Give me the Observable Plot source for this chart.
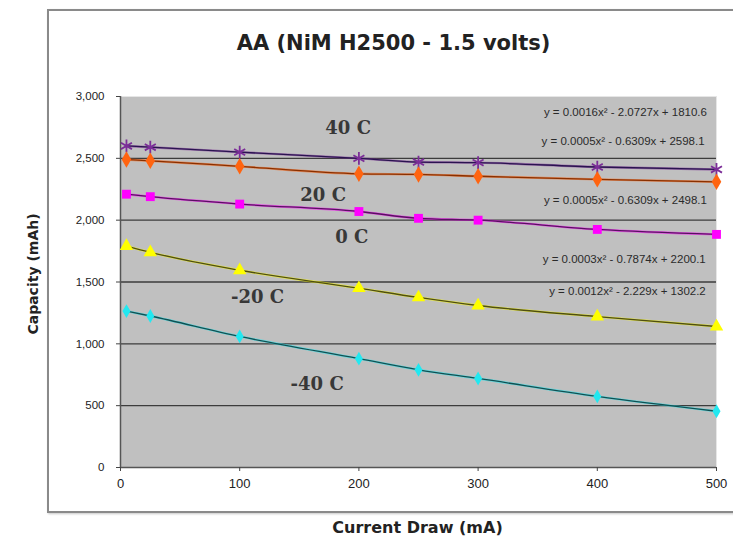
<!DOCTYPE html>
<html><head><meta charset="utf-8">
<script src="https://cdn.jsdelivr.net/npm/d3@7"></script>
<script src="https://cdn.jsdelivr.net/npm/@observablehq/plot@0.6"></script>
<style>
body{margin:0;background:#fff;}
#wrap{position:relative;width:733px;height:539px;overflow:hidden;}
#box{position:absolute;left:47px;top:9px;width:720px;height:500px;border:2px solid #8a8a8a;box-shadow:1px 1px 2px #c8c8c8;}
#chart{position:absolute;left:0;top:0;}
</style></head><body>
<div id="wrap"><div id="box"></div><div id="chart"></div></div>
<script>
// ---- data ----
const currents = [5, 25, 100, 200, 250, 300, 400, 500];
const temps = ["40 C", "20 C", "0 C", "-20 C", "-40 C"];
const cap40 = [2600, 2590, 2550, 2500, 2470, 2465, 2430, 2410];
const cap20 = [2490, 2480, 2435, 2375, 2370, 2355, 2330, 2310];
const cap0 = [2210, 2190, 2130, 2070, 2015, 2000, 1925, 1885];
const capMinus20 = [1790, 1740, 1595, 1450, 1375, 1310, 1220, 1140];
const capMinus40 = [1265, 1225, 1060, 880, 790, 720, 575, 455];
const xTicks = [0, 100, 200, 300, 400, 500];
const yTicks = [0, 500, 1000, 1500, 2000, 2500, 3000];
const equations = [
  "y = 0.0016x² - 2.0727x + 1810.6",
  "y = 0.0005x² - 0.6309x + 2598.1",
  "y = 0.0005x² - 0.6309x + 2498.1",
  "y = 0.0003x² - 0.7874x + 2200.1",
  "y = 0.0012x² - 2.229x + 1302.2"
];
const equationAtX = [492, 490, 492, 491, 491];
const equationAtY = [2874, 2634, 2163, 1686, 1428];
const tempLabelX = [191, 170, 194, 115, 165];
const tempLabelY = [2747, 2205, 1865, 1380, 677];
const title = "AA (NiM H2500 - 1.5 volts)";
const xTitle = "Current Draw (mA)";
const yTitle = "Capacity (mAh)";

// ---- styles ----
const seriesValues = [cap40, cap20, cap0, capMinus20, capMinus40];
const seriesStyle = [
  {symbol: "asterisk", marker: "#7b2d98", line: "#2a1450", filled: false, r: 6},
  {symbol: "diamond", marker: "#ff6410", line: "#8a3000", filled: true, r: 5},
  {symbol: "square", marker: "#ff00ff", line: "#5a1062", filled: true, r: 5},
  {symbol: "triangle", marker: "#ffff00", line: "#4f4f12", filled: true, r: 5},
  {symbol: "diamond", marker: "#22e8f0", line: "#124f52", filled: true, r: 4.2}
];

const rows = temps.map((t, i) => currents.map((c, j) => ({temp: t, current: c, capacity: seriesValues[i][j]})));
const eqRows = equations.map((e, i) => ({text: e, x: equationAtX[i], y: equationAtY[i]}));
const labelRows = temps.map((t, i) => ({text: t, x: tempLabelX[i], y: tempLabelY[i]}));

const sans = "'Liberation Sans', Arial, sans-serif";
const narrow = "'Liberation Sans Narrow', 'Liberation Sans', Arial, sans-serif";
const wide = "'DejaVu Sans', sans-serif";

const seriesMarks = rows.flatMap((data, i) => {
  const s = seriesStyle[i];
  return [
    Plot.line(data, {x: "current", y: "capacity", stroke: s.marker, strokeWidth: 2.4, strokeOpacity: 0.55, curve: "monotone-x"}),
    Plot.line(data, {x: "current", y: "capacity", stroke: s.line, strokeWidth: 1.3, curve: "monotone-x"}),
    s.filled
      ? Plot.dot(data, {x: "current", y: "capacity", symbol: () => s.symbol, fill: s.marker, r: s.r, stroke: "none"})
      : Plot.dot(data, {x: "current", y: "capacity", symbol: () => s.symbol, stroke: s.marker, strokeWidth: 1.8, r: s.r})
  ];
});

const chart = Plot.plot({
  width: 733,
  height: 539,
  marginLeft: 120,
  marginRight: 17,
  marginTop: 96,
  marginBottom: 72,
  x: {domain: [0, 500]},
  y: {domain: [0, 3000]},
  symbol: {type: "identity"},
  style: {fontFamily: sans, background: "transparent", overflow: "visible"},
  marks: [
    Plot.frame({fill: "#c0c0c0", stroke: "#e6e6e6"}),
    Plot.ruleY(yTicks.filter(d => d > 0 && d < 3000), {stroke: "#3c3c3c", strokeWidth: 1.3}),
    Plot.ruleX([0], {stroke: "#555", strokeWidth: 1.5}),
    Plot.ruleY([0], {stroke: "#555", strokeWidth: 1.5}),
    Plot.axisX({ticks: xTicks, tickSize: 4, tickPadding: 7, fontSize: 13, fontFamily: narrow, label: null, stroke: "#444", fill: "#222"}),
    Plot.axisY({ticks: yTicks, tickFormat: d3.format(","), tickSize: 4, tickPadding: 12, fontSize: 11.5, fontFamily: narrow, label: null, stroke: "#444", fill: "#222"}),
    ...seriesMarks,
    Plot.text(eqRows, {x: "x", y: "y", text: "text", textAnchor: "end", fontSize: 11.5, fontFamily: narrow, fill: "#2a2a2a"}),
    Plot.text(labelRows, {x: "x", y: "y", text: "text", fontSize: 18, fontWeight: "bold", fontFamily: "'DejaVu Serif', serif", fill: "#383838"}),
    Plot.text([title], {text: d => d, frameAnchor: "top", textAnchor: "middle", lineAnchor: "middle", dy: -53, dx: -25, fontSize: 21, fontWeight: "bold", fontFamily: wide, fill: "#222"}),
    Plot.text([xTitle], {text: d => d, frameAnchor: "bottom", textAnchor: "middle", lineAnchor: "middle", dy: 60, dx: -1, fontSize: 16, fontWeight: "bold", fontFamily: wide, fill: "#222"}),
    Plot.text([yTitle], {text: d => d, frameAnchor: "left", textAnchor: "middle", lineAnchor: "middle", rotate: -90, dx: -87, dy: -8, fontSize: 14, fontWeight: "bold", fontFamily: wide, fill: "#222"})
  ]
});
document.getElementById("chart").appendChild(chart);
</script>
</body></html>
